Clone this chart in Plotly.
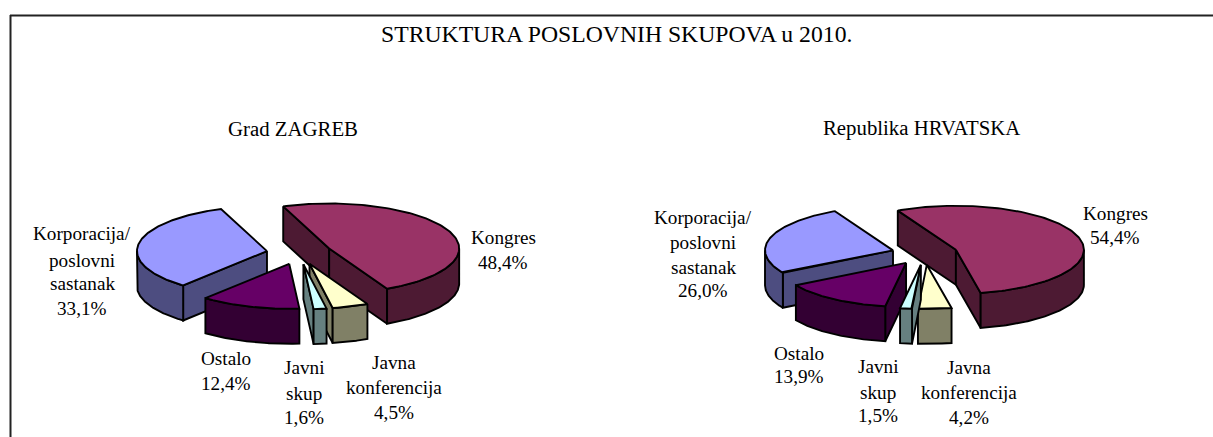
import numpy as np
import plotly.graph_objects as go

TITLE = "STRUKTURA POSLOVNIH SKUPOVA u 2010."
charts = ["Grad ZAGREB", "Republika HRVATSKA"]
categories = ["Kongres", "Javna konferencija", "Javni skup", "Ostalo", "Korporacija/poslovni sastanak"]
zagreb_values = [48.4, 4.5, 1.6, 12.4, 33.1]
hrvatska_values = [54.4, 4.2, 1.5, 13.9, 26.0]
label_lines = [["Kongres"], ["Javna", "konferencija"], ["Javni", "skup"], ["Ostalo"],
               ["Korporacija/", "poslovni", "sastanak"]]
top_colors = ["#993366", "#FFFFCC", "#CCFFFF", "#660066", "#9999FF"]
side_colors = ["#4D1A33", "#808066", "#668080", "#330033", "#4D4D80"]

# draw order, back to front
ORDER = [0, 4, 3, 1, 2]
LINE = dict(color="black", width=1.9)
FONT = "Liberation Serif, Times New Roman, serif"
DEPTH = 35

fig = go.Figure()


def poly(xs, ys, color):
    fig.add_trace(go.Scatter(x=xs, y=ys, mode="lines", fill="toself", fillcolor=color,
                             line=LINE, hoverinfo="skip", showlegend=False))


def draw_pie(values, cx, cy, rx, ry, start, explode):
    total = sum(values)
    edges = [start]
    for v in values:
        edges.append(edges[-1] + v / total * 360)
    for i in ORDER:
        a0, a1 = edges[i], edges[i + 1]
        mid = np.radians((a0 + a1) / 2)
        vx = cx + explode * np.sin(mid)
        vy = cy - explode * np.cos(mid) * ry / rx

        def pt(a):
            r = np.radians(a)
            return vx + rx * np.sin(r), vy - ry * np.cos(r)

        # radial cut faces
        for edge, normal in ((a0, a0 - 90), (a1, a1 + 90)):
            if np.cos(np.radians(normal)) < 0:
                px, py = pt(edge)
                poly([vx, px, px, vx, vx], [vy, py, py + DEPTH, vy + DEPTH, vy], side_colors[i])
        # outer wall: the part of the rim that faces the viewer
        for k in (-1, 0, 1):
            lo, hi = max(a0, 90 + 360 * k), min(a1, 270 + 360 * k)
            if hi > lo:
                aa = np.linspace(lo, hi, 80)
                xy = np.array([pt(a) for a in aa])
                poly(list(xy[:, 0]) + list(xy[::-1, 0]) + [xy[0, 0]],
                     list(xy[:, 1]) + list(xy[::-1, 1] + DEPTH) + [xy[0, 1]], side_colors[i])
        # top surface
        aa = np.linspace(a0, a1, 120)
        xy = np.array([pt(a) for a in aa])
        poly([vx] + list(xy[:, 0]) + [vx], [vy] + list(xy[:, 1]) + [vy], top_colors[i])


draw_pie(zagreb_values, 299.2, 253, 130, 45, -20.7, 32.7)
draw_pie(hrvatska_values, 924.7, 253.5, 128, 44, -27, 33)


def fmt(v):
    return f"{v:.1f}".replace(".", ",") + "%"


def text(x, y, s, size=19.2):
    fig.add_annotation(x=x, y=y, text=s, showarrow=False, xanchor="center", yanchor="middle",
                       font=dict(family=FONT, size=size, color="black"))


text(616.5, 34, TITLE, 23.7)
text(293, 128, charts[0], 20.8)
text(921, 128, charts[1], 20.8)

label_pos_left = [(503, [237, 262]), (394, [362, 387, 412]), (304, [367, 393, 417]),
                  (226, [358, 383]), (82, [233, 260, 283, 308])]
label_pos_right = [(1115, [213, 237]), (969, [367, 392, 417]), (878, [366, 392, 415]),
                   (799, [353, 376]), (703, [217, 242, 267, 290])]
for vals, positions in ((zagreb_values, label_pos_left), (hrvatska_values, label_pos_right)):
    for lines, v, (x, ys) in zip(label_lines, vals, positions):
        for s, y in zip(lines + [fmt(v)], ys):
            text(x, y, s)

fig.update_layout(
    width=1213, height=437, margin=dict(l=0, r=0, t=0, b=0),
    paper_bgcolor="white", plot_bgcolor="white", showlegend=False,
    xaxis=dict(range=[0, 1213], visible=False, fixedrange=True),
    yaxis=dict(range=[437, 0], visible=False, fixedrange=True),
    shapes=[dict(type="line", x0=10.5, x1=10.5, y0=15, y1=437, xref="x", yref="y",
                 line=dict(color="#222", width=2)),
            dict(type="line", x0=10, x1=1213, y0=15.5, y1=15.5, xref="x", yref="y",
                 line=dict(color="#222", width=2))],
)
fig.write_html("out.html", config=dict(displayModeBar=False),
               post_script="document.body.style.margin='0';document.body.style.overflow='hidden';")
